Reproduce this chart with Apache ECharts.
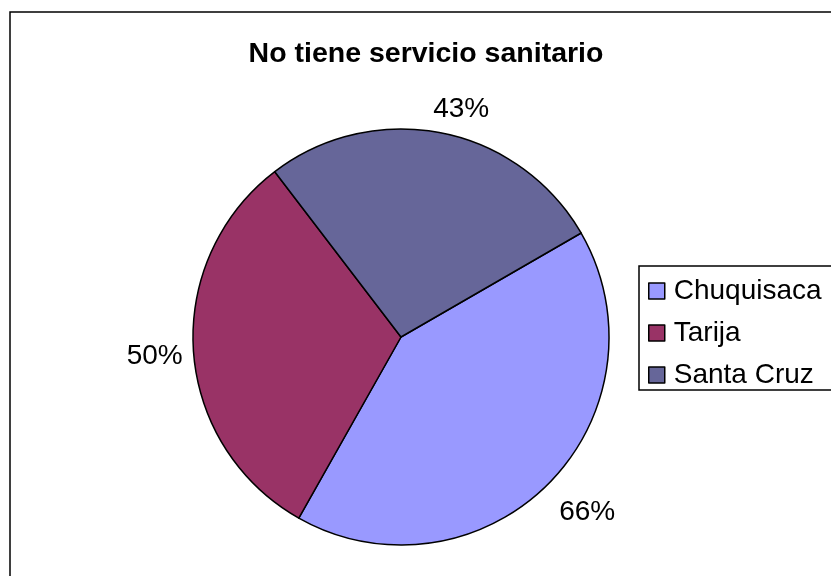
<!DOCTYPE html>
<html>
<head>
<meta charset="utf-8">
<script src="https://cdn.jsdelivr.net/npm/echarts@6/dist/echarts.min.js"></script>
<style>
  html, body { margin: 0; padding: 0; background: #fff; }
  #chart { width: 831px; height: 576px; }
</style>
</head>
<body>
<div id="chart"></div>
<script>
// Departments and the share of households without sanitary service (%)
const departments = ['Chuquisaca', 'Tarija', 'Santa Cruz'];
const sinServicio = [66, 50, 43];
const sliceColors = ['#9999FF', '#993366', '#666699'];

const FONT = '"Liberation Sans", Arial, sans-serif';
const CX = 401, CY = 337, R = 208, START = 30;
// small per-slice label nudges (px) applied after radial placement
const LABEL_NUDGE = [[8, -1], [3, 2], [13, 8]];

// mid angle (degrees, counter-clockwise from 3 o'clock) of each slice, clockwise layout
const total = sinServicio.reduce((a, b) => a + b, 0);
const midAngles = [];
let acc = START;
sinServicio.forEach(v => {
  const span = v / total * 360;
  midAngles.push(acc - span / 2);
  acc -= span;
});

const chart = echarts.init(document.getElementById('chart'), null, { renderer: 'canvas' });

chart.setOption({
  animation: false,
  backgroundColor: '#fff',
  title: {
    text: 'No tiene servicio sanitario',
    left: 421,
    top: 35,
    textAlign: 'center',
    textStyle: { fontFamily: FONT, fontSize: 28.5, fontWeight: 'bold', color: '#000' }
  },
  legend: {
    orient: 'vertical',
    left: 639,
    top: 266,
    padding: [11, 40, 1, 9],
    itemGap: 14,
    itemWidth: 16,
    itemHeight: 16,
    borderColor: '#000',
    borderWidth: 1.5,
    icon: 'rect',
    itemStyle: { borderColor: '#000', borderWidth: 1.5 },
    textStyle: { fontFamily: FONT, fontSize: 28, color: '#000', padding: [0, 0, 0, 4] },
    data: departments
  },
  graphic: [{
    type: 'rect',
    shape: { x: 10, y: 12, width: 840, height: 600 },
    style: { fill: 'none', stroke: '#000', lineWidth: 1.5 },
    silent: true
  }],
  series: [{
    type: 'pie',
    center: [CX, CY],
    radius: R,
    startAngle: START,
    clockwise: true,
    color: sliceColors,
    itemStyle: { borderColor: '#000', borderWidth: 1.5 },
    label: {
      show: true,
      position: 'outside',
      formatter: p => p.value + '%',
      fontFamily: FONT,
      fontSize: 28,
      color: '#000'
    },
    labelLine: { show: false },
    labelLayout: params => {
      const i = params.dataIndex;
      const a = midAngles[i] * Math.PI / 180;
      const w = params.labelRect.width, h = params.labelRect.height;
      const c = Math.cos(a), s = Math.sin(a);
      const d = R + 13 + Math.abs(c) * w / 2 + Math.abs(s) * h / 2;
      return {
        x: CX + d * c + LABEL_NUDGE[i][0],
        y: CY - d * s + LABEL_NUDGE[i][1],
        align: 'center',
        verticalAlign: 'middle'
      };
    },
    emphasis: { disabled: true },
    data: departments.map((name, i) => ({ name, value: sinServicio[i] }))
  }]
});
</script>
</body>
</html>
